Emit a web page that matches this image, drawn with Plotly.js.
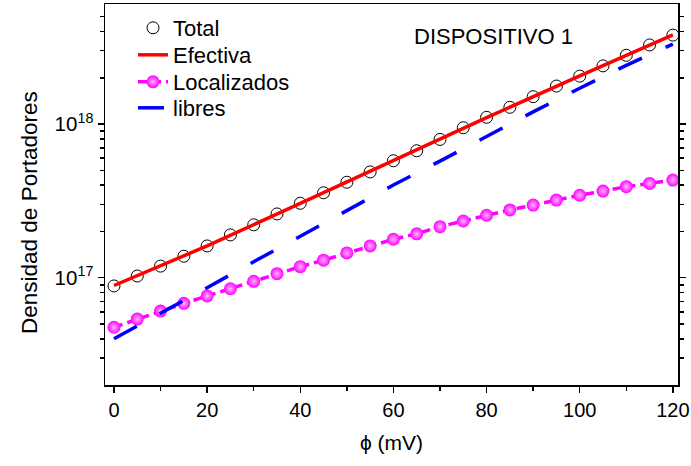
<!DOCTYPE html>
<html>
<head>
<meta charset="utf-8">
<script src="https://cdn.plot.ly/plotly-3.0.1.min.js"></script>
<style>
  html, body { margin: 0; padding: 0; background: #fff; }
  #chart { width: 691px; height: 466px; }
</style>
</head>
<body>
<div id="chart"></div>
<script>
// Potential values (mV) of the measured points
const phi = [0, 5, 10, 15, 20, 25, 30, 35, 40, 45, 50, 55, 60,
             65, 70, 75, 80, 85, 90, 95, 100, 105, 110, 115, 120];

// Total carrier density (open circles)
const total = [8.84e16, 1.026e17, 1.19e17, 1.38e17, 1.61e17, 1.90e17, 2.21e17,
               2.60e17, 3.05e17, 3.57e17, 4.18e17, 4.88e17, 5.77e17, 6.70e17,
               7.94e17, 9.46e17, 1.106e18, 1.285e18, 1.507e18, 1.767e18,
               2.05e18, 2.39e18, 2.80e18, 3.27e18, 3.79e18];

// Effective density (fitted solid line)
const phiEfectiva = [0, 20, 40, 60, 80, 100, 120];
const efectiva = [8.9e16, 1.61e17, 3.05e17, 5.8e17, 1.1e18, 2.06e18, 3.8e18];

// Localized carriers
const localizados = [4.76e16, 5.38e16, 6.07e16, 6.81e16, 7.61e16, 8.48e16, 9.48e16,
                     1.062e17, 1.18e17, 1.30e17, 1.45e17, 1.61e17, 1.78e17, 1.93e17,
                     2.15e17, 2.34e17, 2.55e17, 2.76e17, 2.97e17, 3.20e17, 3.44e17,
                     3.66e17, 3.91e17, 4.11e17, 4.32e17];

// Free carriers
const phiLibres = [0, 10, 20, 30, 40, 50, 60, 70, 80, 90, 100, 110, 120];
const libres = [4.01e16, 5.92e16, 8.61e16, 1.27e17, 1.87e17, 2.73e17, 4.01e17,
                5.74e17, 8.36e17, 1.20e18, 1.71e18, 2.41e18, 3.31e18];

// Axis ticks
const xTickVals = [0, 20, 40, 60, 80, 100, 120];
const yTickVals = [1e17, 1e18];
const yTickText = ['10<sup>17</sup>', '10<sup>18</sup>'];
const yMinorVals = [3e16, 4e16, 5e16, 6e16, 7e16, 8e16, 9e16,
                    2e17, 3e17, 4e17, 5e17, 6e17, 7e17, 8e17, 9e17,
                    2e18, 3e18, 4e18, 5e18];

const FONT = 'Liberation Sans, Arial, sans-serif';

// Plot-area geometry in pixels, used to place legends and labels
const L = 105, T = 4, W = 572.7, H = 381;
const px = x => (x - L) / W;
const py = y => 1 - (y - T) / H;

const traces = [
  {
    x: phi, y: total, name: 'Total', type: 'scatter', mode: 'markers',
    marker: { symbol: 'circle-open', size: 12, color: '#000', line: { width: 1, color: '#000' } },
    legend: 'legend'
  },
  {
    x: phiEfectiva, y: efectiva, name: 'Efectiva', type: 'scatter', mode: 'lines',
    line: { color: '#ff0000', width: 3.5 },
    legend: 'legend2'
  },
  {
    x: phi, y: localizados, name: 'Localizados', type: 'scatter', mode: 'lines+markers',
    line: { color: '#ff00ff', width: 3.5, dash: '9px,5px' },
    marker: { size: 13, color: '#ff00ff', line: { width: 0 },
              gradient: { type: 'radial', color: '#ffb8ff' } },
    legend: 'legend3'
  },
  {
    x: phiLibres, y: libres, name: 'libres', type: 'scatter', mode: 'lines',
    line: { color: '#0000ff', width: 3.5, dash: '26px,26px' },
    legend: 'legend4'
  }
];

function legendAt(yPix) {
  return {
    x: px(133), y: py(yPix), xanchor: 'left', yanchor: 'middle',
    bgcolor: 'rgba(0,0,0,0)', borderwidth: 0,
    font: { family: FONT, size: 22, color: '#000' }
  };
}

const layout = {
  width: 691, height: 466,
  margin: { l: L, r: 691 - L - W, t: T, b: 466 - T - H, pad: 0 },
  paper_bgcolor: '#fff', plot_bgcolor: '#fff',
  font: { family: FONT, color: '#000' },
  showlegend: true,
  legend: legendAt(28),
  legend2: legendAt(55),
  legend3: legendAt(82),
  legend4: legendAt(108),
  xaxis: {
    range: [-1.93, 121.1],
    tickmode: 'array', tickvals: xTickVals,
    ticks: 'outside', ticklen: 6, tickwidth: 1.5, tickcolor: '#000',
    minor: { tickmode: 'linear', tick0: 0, dtick: 10, ticks: 'outside', ticklen: 4, tickwidth: 1.5, tickcolor: '#000' },
    showline: true, linecolor: '#000', linewidth: 1.5, mirror: true,
    showgrid: false, zeroline: false,
    tickfont: { family: FONT, size: 20, color: '#000' },
    title: { text: '\u03d5 (mV)', font: { family: FONT, size: 21, color: '#000' }, standoff: 16 }
  },
  yaxis: {
    type: 'log',
    range: [16.302, 18.781],
    tickmode: 'array', tickvals: yTickVals, ticktext: yTickText,
    ticks: 'outside', ticklen: 6, tickwidth: 1.5, tickcolor: '#000',
    minor: { tickmode: 'array', tickvals: yMinorVals, ticks: 'outside', ticklen: 4, tickwidth: 1.5, tickcolor: '#000' },
    showline: true, linecolor: '#000', linewidth: 1.5, mirror: 'ticks',
    showgrid: false, zeroline: false,
    tickfont: { family: FONT, size: 20.5, color: '#000' }
  },
  annotations: [
    {
      // vertical axis label
      text: 'Densidad de Portadores', xref: 'paper', yref: 'paper',
      x: px(29), y: py(212), xanchor: 'center', yanchor: 'middle', textangle: -90,
      showarrow: false, font: { family: FONT, size: 22.5, color: '#000' }
    },
    {
      text: 'DISPOSITIVO 1', xref: 'paper', yref: 'paper',
      x: px(493), y: py(37), xanchor: 'center', yanchor: 'middle',
      showarrow: false, font: { family: FONT, size: 22, color: '#000' }
    }
  ]
};

Plotly.newPlot('chart', traces, layout, { staticPlot: true, displayModeBar: false });
</script>
</body>
</html>
